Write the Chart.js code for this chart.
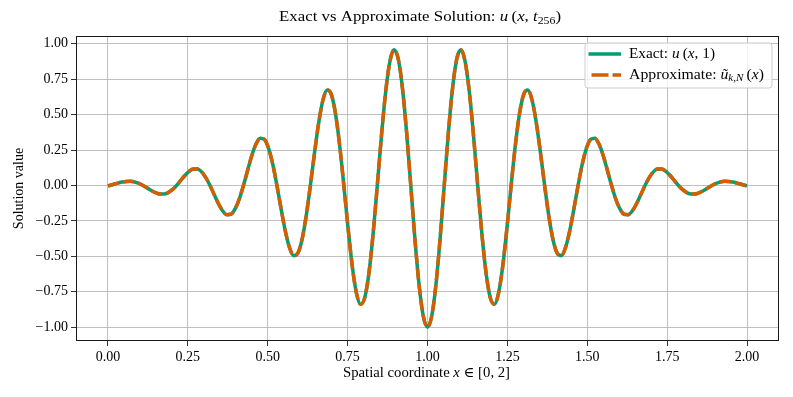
<!DOCTYPE html>
<html><head><meta charset="utf-8">
<script src="https://cdn.jsdelivr.net/npm/chart.js@4.4.1/dist/chart.umd.min.js"></script>
<style>html,body{margin:0;padding:0;background:#fff;overflow:hidden}#wrap{width:793px;height:397px;position:relative}</style>
</head><body><div id="wrap"><canvas id="c"></canvas></div>
<script>
// ---- data ----
const xValues = [0,
0.00516,0.01825,0.03134,0.04443,0.05752,0.07061,0.08370,0.09679,0.10988,0.12297,0.13606,0.14915,0.16224,0.17533,0.18842,0.20151,
0.21460,0.22769,0.24078,0.25387,0.26696,0.28005,0.29314,0.30623,0.31932,0.33241,0.34550,0.35859,0.37168,0.38477,0.39786,0.41095,
0.42404,0.43713,0.45022,0.46331,0.47640,0.48949,0.50258,0.51567,0.52876,0.54185,0.55494,0.56803,0.58112,0.59421,0.60730,0.62039,
0.63348,0.64657,0.65966,0.67275,0.68584,0.69893,0.71202,0.72511,0.73820,0.75129,0.76438,0.77747,0.79056,0.80365,0.81674,0.82983,
0.84292,0.85601,0.86910,0.88219,0.89528,0.90837,0.92146,0.93455,0.94764,0.96073,0.97382,0.98691,
1,
1.01309,1.02618,1.03927,1.05236,1.06545,1.07854,1.09163,1.10472,1.11781,1.13090,1.14399,1.15708,1.17017,1.18326,1.19635,1.20944,
1.22253,1.23562,1.24871,1.26180,1.27489,1.28798,1.30107,1.31416,1.32725,1.34034,1.35343,1.36652,1.37961,1.39270,1.40579,1.41888,
1.43197,1.44506,1.45815,1.47124,1.48433,1.49742,1.51051,1.52360,1.53669,1.54978,1.56287,1.57596,1.58905,1.60214,1.61523,1.62832,
1.64141,1.65450,1.66759,1.68068,1.69377,1.70686,1.71995,1.73304,1.74613,1.75922,1.77231,1.78540,1.79849,1.81158,1.82467,1.83776,
1.85085,1.86394,1.87703,1.89012,1.90321,1.91630,1.92939,1.94248,1.95557,1.96866,1.98175,1.99484,
2];

const exactValues = [-0.0028,
0,0.0081,0.01658,0.02397,0.02864,0.0292,0.02461,0.01465,
0,-0.01765,-0.03572,-0.05106,-0.06037,-0.06085,-0.05074,-0.02987,
0,0.03521,0.07049,0.09966,0.11656,0.1162,0.09583,0.0558,
0,-0.06436,-0.12745,-0.17822,-0.20616,-0.20328,-0.16583,-0.09552,
0,0.10776,0.21107,0.29191,0.334,0.32574,0.26282,0.14974,
0,-0.16527,-0.32017,-0.43798,-0.49567,-0.47815,-0.38158,-0.21503,
0,0.23219,0.44491,0.60197,0.67383,0.64291,0.50748,0.28286,
0,-0.2988,-0.56629,-0.75786,-0.83907,-0.79185,-0.61822,-0.34083,
0,0.35222,0.66027,0.87399,0.95708,0.89337,0.68988,0.37618,
0,-0.38033,-0.70517,-0.92325,
-1,
-0.92325,-0.70517,-0.38033,0,
0.37618,0.68988,0.89337,0.95708,0.87399,0.66027,0.35222,0,
-0.34083,-0.61822,-0.79185,-0.83907,-0.75786,-0.56629,-0.2988,0,
0.28286,0.50748,0.64291,0.67383,0.60197,0.44491,0.23219,0,
-0.21503,-0.38158,-0.47815,-0.49567,-0.43798,-0.32017,-0.16527,0,
0.14974,0.26282,0.32574,0.334,0.29191,0.21107,0.10776,0,
-0.09552,-0.16583,-0.20328,-0.20616,-0.17822,-0.12745,-0.06436,0,
0.0558,0.09583,0.1162,0.11656,0.09966,0.07049,0.03521,0,
-0.02987,-0.05074,-0.06085,-0.06037,-0.05106,-0.03572,-0.01765,0,
0.01465,0.02461,0.0292,0.02864,0.02397,0.01658,0.0081,0,
-0.0028];

const approxValues = exactValues.slice();

const xTickValues = [0, 0.25, 0.5, 0.75, 1, 1.25, 1.5, 1.75, 2];
const yTickValues = [-1, -0.75, -0.5, -0.25, 0, 0.25, 0.5, 0.75, 1];

const titleSegments = [
  {t: 'Exact vs Approximate Solution: '}, {t: 'u', it: true}, {t: '\u2009('}, {t: 'x', it: true},
  {t: ', '}, {t: 't', it: true}, {t: '256', sub: true}, {t: ')'}];
const xTitleSegments = [{t: 'Spatial coordinate '}, {t: 'x', it: true}, {t: ' \u2208 [0, 2]'}];
const yTitleText = 'Solution value';
const legendExact = [{t: 'Exact: '}, {t: 'u', it: true}, {t: '\u2009('}, {t: 'x', it: true}, {t: ', 1)'}];
const legendApprox = [{t: 'Approximate: '}, {t: '\u0169', it: true}, {t: 'k,N', it: true, sub: true},
  {t: '\u2009('}, {t: 'x', it: true}, {t: ')'}];

const GREEN = '#009E73', ORANGE = '#D55E00';
const FAM = '"Liberation Serif", "DejaVu Serif", serif';
const FS = 14;

function segFont(s, size) {
  const sz = s.sub ? size * 0.7 : size;
  return (s.it ? 'italic ' : '') + sz + 'px ' + FAM;
}
function richWidth(ctx, segs, size) {
  let w = 0;
  for (const s of segs) { ctx.font = segFont(s, size); w += ctx.measureText(s.t).width; }
  return w;
}
// draws rich text; if fitWidth given, the run is stretched horizontally to that width
function drawRich(ctx, segs, x, y, size, align, fitWidth) {
  const w = richWidth(ctx, segs, size);
  const k = fitWidth ? fitWidth / w : 1;
  const start = align === 'center' ? x - (w * k) / 2 : x;
  ctx.save();
  ctx.translate(start, y);
  ctx.scale(k, 1);
  ctx.textAlign = 'left';
  let cx = 0;
  for (const s of segs) {
    ctx.font = segFont(s, size);
    ctx.fillText(s.t, cx, s.sub ? size * 0.22 : 0);
    cx += ctx.measureText(s.t).width;
  }
  ctx.restore();
}

const decor = {
  id: 'decor',
  afterDatasetsDraw(chart) {
    const ctx = chart.ctx, a = chart.chartArea;
    ctx.save();
    // frame
    ctx.strokeStyle = '#1a1a1a'; ctx.lineWidth = 1;
    ctx.strokeRect(Math.round(a.left) + 0.5, Math.round(a.top) + 0.5,
      Math.round(a.right - a.left) - 1, Math.round(a.bottom - a.top) - 1);
    // legend
    const bx = a.right - 194, by = a.top + 7, bw = 187, bh = 45, r = 3;
    ctx.beginPath();
    ctx.moveTo(bx + r, by); ctx.lineTo(bx + bw - r, by); ctx.arcTo(bx + bw, by, bx + bw, by + r, r);
    ctx.lineTo(bx + bw, by + bh - r); ctx.arcTo(bx + bw, by + bh, bx + bw - r, by + bh, r);
    ctx.lineTo(bx + r, by + bh); ctx.arcTo(bx, by + bh, bx, by + bh - r, r);
    ctx.lineTo(bx, by + r); ctx.arcTo(bx, by, bx + r, by, r); ctx.closePath();
    ctx.fillStyle = 'rgba(255,255,255,0.8)'; ctx.fill();
    ctx.strokeStyle = '#cccccc'; ctx.lineWidth = 1; ctx.stroke();
    const lx0 = bx + 3.5, lx1 = bx + 36, r1 = by + 11, r2 = by + 32;
    ctx.lineWidth = 3.5; ctx.lineCap = 'butt';
    ctx.strokeStyle = GREEN; ctx.setLineDash([]);
    ctx.beginPath(); ctx.moveTo(lx0, r1); ctx.lineTo(lx1, r1); ctx.stroke();
    ctx.strokeStyle = ORANGE; ctx.setLineDash([17, 4]);
    ctx.beginPath(); ctx.moveTo(lx0 + 3, r2); ctx.lineTo(lx1, r2); ctx.stroke();
    ctx.setLineDash([]);
    ctx.fillStyle = '#000'; ctx.textBaseline = 'middle';
    drawRich(ctx, legendExact, bx + 44, r1, FS, 'left', 86);
    drawRich(ctx, legendApprox, bx + 44, r2, FS, 'left', 135);
    ctx.restore();
  },
  afterDraw(chart) {
    const ctx = chart.ctx, a = chart.chartArea;
    ctx.save();
    ctx.fillStyle = '#000'; ctx.textBaseline = 'alphabetic';
    drawRich(ctx, titleSegments, 420, 21, FS, 'center', 282);
    drawRich(ctx, xTitleSegments, (a.left + a.right) / 2 - 1, 377, FS, 'center', 167);
    ctx.restore();
  }
};

const fmt = v => (Math.round(v * 100) / 100).toFixed(2).replace('-', '\u2212');

new Chart(document.getElementById('c'), {
  type: 'line',
  data: {
    datasets: [
      {label: 'Exact: u(x,1)', data: xValues.map((x, i) => ({x, y: exactValues[i]})),
       borderColor: GREEN, borderWidth: 3.5, pointRadius: 0, fill: false,
       cubicInterpolationMode: 'monotone', order: 2},
      {label: 'Approximate: ũ_{k,N}(x)', data: xValues.map((x, i) => ({x, y: approxValues[i]})),
       borderColor: ORANGE, borderWidth: 3.5, borderDash: [11, 4.5], pointRadius: 0, fill: false,
       cubicInterpolationMode: 'monotone', order: 1}
    ]
  },
  options: {
    responsive: true, maintainAspectRatio: false, animation: false, devicePixelRatio: 1,
    layout: {padding: {top: 36, right: 14, bottom: 0, left: 0}},
    plugins: {legend: {display: false}, title: {display: false}, tooltip: {enabled: false}},
    scales: {
      x: {
        type: 'linear', min: -0.1, max: 2.1,
        afterBuildTicks: s => { s.ticks = xTickValues.map(v => ({value: v})); },
        afterFit: s => { s.height = 56; },
        ticks: {callback: v => fmt(v), color: '#000', font: {family: FAM, size: FS}, padding: 3,
                maxRotation: 0, autoSkip: false},
        grid: {color: '#b0b0b0', lineWidth: 0.8, tickLength: 5, tickColor: '#000', drawTicks: true},
        border: {display: false}
      },
      y: {
        type: 'linear', min: -1.0979, max: 1.0549,
        afterBuildTicks: s => { s.ticks = yTickValues.map(v => ({value: v})); },
        afterFit: s => { s.width = 76; },
        ticks: {callback: v => fmt(v), color: '#000', font: {family: FAM, size: FS}, padding: 3, autoSkip: false},
        grid: {color: '#b0b0b0', lineWidth: 0.8, tickLength: 5, tickColor: '#000', drawTicks: true},
        border: {display: false},
        title: {display: true, text: yTitleText, color: '#000', font: {family: FAM, size: FS}, padding: {top: 11, bottom: 0}}
      }
    }
  },
  plugins: [decor]
});
</script></body></html>
